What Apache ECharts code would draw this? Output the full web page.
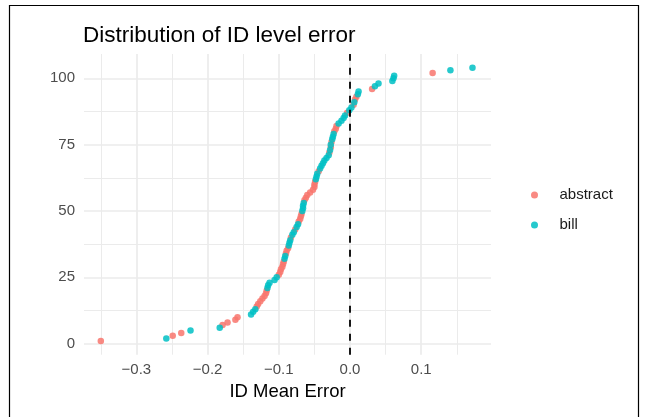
<!DOCTYPE html>
<html>
<head>
<meta charset="utf-8">
<script src="https://cdn.jsdelivr.net/npm/echarts@6/dist/echarts.min.js"></script>
<style>
  html, body { margin: 0; padding: 0; background: #fff; }
  #chart { width: 646px; height: 417px; }
</style>
</head>
<body>
<div id="chart"></div>
<script>
// Mean error per ID, sorted ascending; rank = position (1..104)
const meanError = [
  -0.350, -0.258, -0.249, -0.237, -0.224, -0.183, -0.179, -0.172, -0.161, -0.158,
  -0.139, -0.136, -0.133, -0.131, -0.129, -0.126, -0.123, -0.120, -0.118, -0.117,
  -0.116, -0.115, -0.113, -0.106, -0.103, -0.100, -0.098, -0.097, -0.095, -0.094,
  -0.093, -0.092, -0.091, -0.090, -0.089, -0.087, -0.086, -0.085, -0.084, -0.083,
  -0.081, -0.079, -0.077, -0.075, -0.073, -0.072, -0.070, -0.069, -0.068, -0.067,
  -0.066, -0.066, -0.065, -0.064, -0.062, -0.060, -0.056, -0.052, -0.050, -0.050,
  -0.049, -0.048, -0.047, -0.046, -0.044, -0.042, -0.040, -0.038, -0.036, -0.033,
  -0.030, -0.029, -0.028, -0.027, -0.027, -0.026, -0.025, -0.024, -0.023, -0.022,
  -0.020, -0.019, -0.016, -0.012, -0.009, -0.007, -0.004, -0.001,  0.002,  0.005,
   0.006,  0.007,  0.009,  0.011,  0.012,  0.031,  0.035,  0.040,  0.0595, 0.061,
   0.062,  0.116,  0.141,  0.172
];

// Source of each ID in the same order: A = abstract, B = bill
const source = [
  'A','B','A','A','B','B','A','A','A','A',
  'B','B','B','A','A','A','A','A','A','A',
  'B','B','B','B','B','A','A','A','A','A',
  'A','B','B','A','A','A','B','B','B','A',
  'B','B','A','B','B','A','A','A','A','B',
  'B','B','B','A','A','A','A','A','A','A',
  'A','B','B','B','A','B','B','B','B','B',
  'B','A','B','A','B','A','B','B','B','A',
  'A','A','B','B','B','B','A','B','B','A',
  'B','A','A','B','B','A','B','B','B','B',
  'B','A','B','B'
];

const groupNames = { A: 'abstract', B: 'bill' };
const groupColors = { A: '#F8766D', B: '#00BFC4' };

const xMajorTicks = [-0.3, -0.2, -0.1, 0.0, 0.1];
const xMinorTicks = [-0.35, -0.25, -0.15, -0.05, 0.05, 0.15];
const yMajorTicks = [0, 25, 50, 75, 100];
const yMinorTicks = [12.5, 37.5, 62.5, 87.5];

const refLineX = 0;

// ggplot-style expanded limits (5% each side)
const xMin = -0.3736, xMax = 0.198;
const yMin = -4.15, yMax = 109.15;

const pointsFor = key => meanError
  .map((v, i) => [v, i + 1, source[i]])
  .filter(p => p[2] === key)
  .map(p => [p[0], p[1]]);

const font = 'Liberation Sans, Arial, sans-serif';
const gridColor = '#EBEBEB';
const fmtX = v => {
  const s = Math.abs(v).toFixed(1);
  return v < -1e-9 ? '\u2212' + s : s;
};

const chart = echarts.init(document.getElementById('chart'), null, { renderer: 'canvas' });

chart.setOption({
  animation: false,
  backgroundColor: '#fff',
  textStyle: { fontFamily: font },
  title: {
    text: 'Distribution of ID level error',
    left: 78, top: 19,
    textStyle: { fontFamily: font, fontSize: 22.5, fontWeight: 'normal', color: '#000' }
  },
  graphic: [{
    type: 'rect', silent: true, z: -1,
    shape: { x: 9.5, y: 5.5, width: 629, height: 430 },
    style: { fill: 'none', stroke: '#000', lineWidth: 1.2 }
  }],
  legend: {
    orient: 'vertical',
    left: 526, top: 181,
    itemWidth: 40, itemHeight: 7, itemGap: 12,
    textStyle: { fontFamily: font, fontSize: 15, color: '#1A1A1A', lineHeight: 18 },
    data: [
      { name: 'abstract', icon: 'circle' },
      { name: 'bill', icon: 'circle' }
    ]
  },
  grid: { left: 84, right: 155, top: 54, bottom: 62.3, containLabel: false },
  xAxis: [{
    type: 'value', min: xMin, max: xMax,
    name: 'ID Mean Error', nameLocation: 'middle', nameGap: 26,
    nameTextStyle: { fontFamily: font, fontSize: 18.5, color: '#000' },
    axisLine: { show: false },
    axisTick: { show: false, customValues: xMajorTicks },
    axisLabel: { customValues: xMajorTicks, formatter: fmtX, color: '#4D4D4D', fontSize: 15, margin: 8, fontFamily: font },
    splitLine: { show: true, lineStyle: { color: gridColor, width: 1.7 } }
  }, {
    type: 'value', min: xMin, max: xMax, position: 'top',
    axisLine: { show: false },
    axisTick: { show: false, customValues: xMinorTicks },
    axisLabel: { show: false, customValues: xMinorTicks },
    splitLine: { show: true, lineStyle: { color: gridColor, width: 1 } }
  }],
  yAxis: [{
    type: 'value', min: yMin, max: yMax,
    axisLine: { show: false },
    axisTick: { show: false, customValues: yMajorTicks },
    axisLabel: { customValues: yMajorTicks, color: '#4D4D4D', fontSize: 15, margin: 9, fontFamily: font },
    splitLine: { show: true, lineStyle: { color: gridColor, width: 1.7 } }
  }, {
    type: 'value', min: yMin, max: yMax, position: 'right',
    axisLine: { show: false },
    axisTick: { show: false, customValues: yMinorTicks },
    axisLabel: { show: false, customValues: yMinorTicks },
    splitLine: { show: true, lineStyle: { color: gridColor, width: 1 } }
  }],
  series: [
    {
      name: groupNames.A, type: 'scatter', symbol: 'circle', symbolSize: 6.5,
      itemStyle: { color: groupColors.A, opacity: 0.85 },
      data: pointsFor('A'), z: 3,
      markLine: {
        silent: true, symbol: 'none', label: { show: false },
        lineStyle: { color: '#000', type: [7, 7], width: 1.8, opacity: 1 },
        data: [{ xAxis: refLineX }]
      }
    },
    {
      name: groupNames.B, type: 'scatter', symbol: 'circle', symbolSize: 6.5,
      itemStyle: { color: groupColors.B, opacity: 0.85 },
      data: pointsFor('B'), z: 3
    }
  ]
});
</script>
</body>
</html>
